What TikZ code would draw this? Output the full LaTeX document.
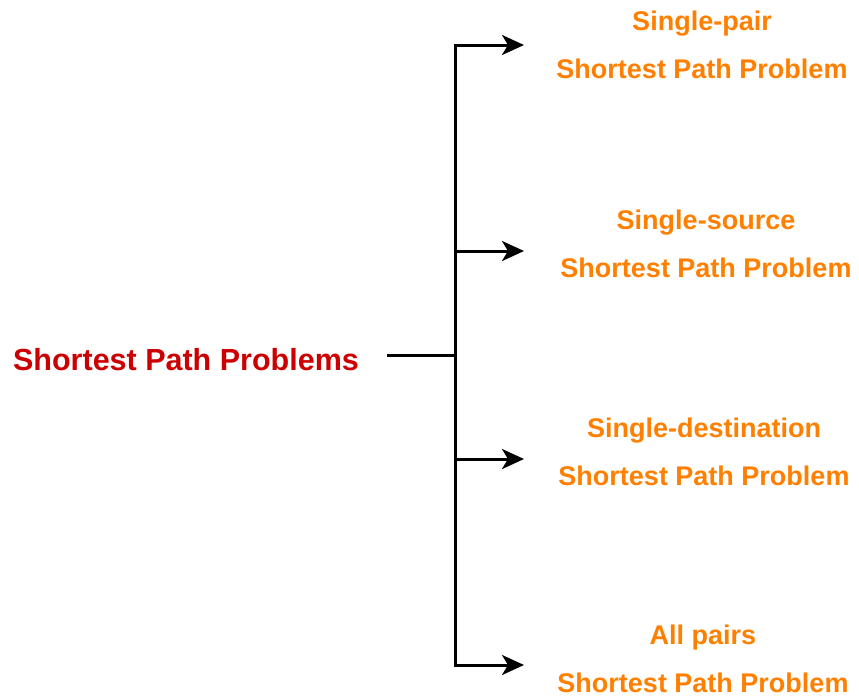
\documentclass[tikz,border=0pt]{standalone}
\usepackage{fontspec}
\setmainfont{Liberation Sans}
\usetikzlibrary{arrows.meta}
\definecolor{rootred}{HTML}{CC0000}
\definecolor{leaforange}{HTML}{FF8000}
\begin{document}
\begin{tikzpicture}[x=1pt,y=-1pt,
  connector/.style={line width=3pt,black,line join=miter},
  tip/.style={-{Stealth[length=22pt,width=20pt,inset=6pt]}},
  roottext/.style={font=\fontsize{30.5}{36}\selectfont\bfseries,text=rootred,inner sep=0pt,anchor=base},
  leaftext/.style={font=\fontsize{27}{48}\selectfont\bfseries,text=leaforange,inner sep=0pt,align=center,anchor=base}]
\useasboundingbox (0,0) rectangle (859,697);

% root label
\node[roottext] (root) at (186,370) {Shortest Path Problems};

% leaf labels (anchored on the last line's baseline)
\node[leaftext] (pair) at (702,78) {Single-pair\\Shortest Path Problem};
\node[leaftext] (source) at (706,277) {Single-source\\Shortest Path Problem};
\node[leaftext] (dest) at (704,485) {Single-destination\\Shortest Path Problem};
\node[leaftext] (all) at (703,692) {All pairs\\Shortest Path Problem};

% branching points
\coordinate (stem) at (387,355);
\coordinate (hub) at (455,355);
\coordinate (b1) at (455,45);
\coordinate (b2) at (455,251);
\coordinate (b3) at (455,459);
\coordinate (b4) at (455,665);
\coordinate (e1) at (524,45);
\coordinate (e2) at (524,251);
\coordinate (e3) at (524,459);
\coordinate (e4) at (524,665);

% tree connectors
\draw[connector] (stem) -- (hub);
\draw[connector,{Stealth[length=22pt,width=20pt,inset=6pt]}-{Stealth[length=22pt,width=20pt,inset=6pt]}]
  (e1) -- (b1) -- (b4) -- (e4);
\draw[connector,tip] (b2) -- (e2);
\draw[connector,tip] (b3) -- (e3);
\end{tikzpicture}
\end{document}
